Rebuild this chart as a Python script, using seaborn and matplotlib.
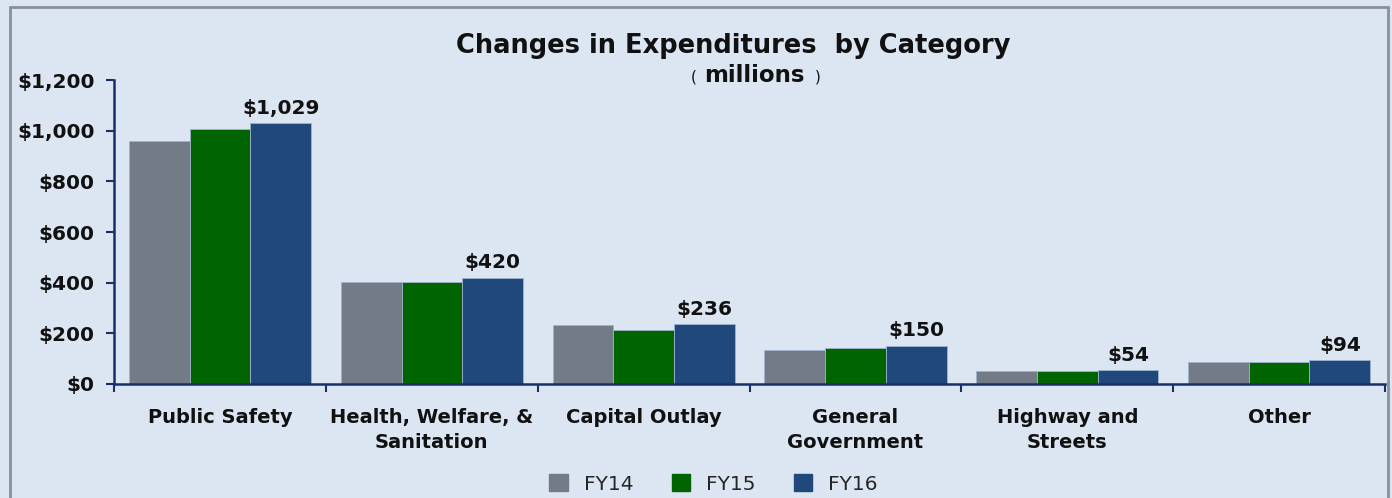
import pandas as pd
import matplotlib.pyplot as plt
import seaborn as sns
from matplotlib.patches import Rectangle, Patch
from matplotlib.ticker import FixedLocator

categorias = ['Public Safety', 'Health, Welfare, &\nSanitation', 'Capital Outlay',
              'General\nGovernment', 'Highway and\nStreets', 'Other']
anos = ['FY14', 'FY15', 'FY16']
fy14 = [960, 403, 233, 134, 50, 88]
fy15 = [1007, 403, 213, 142, 52, 88]
fy16 = [1029, 420, 236, 150, 54, 94]
rotulos_fy16 = ['$1,029', '$420', '$236', '$150', '$54', '$94']
cores = ['#737B87', '#006400', '#20487B']

df = pd.DataFrame({
    'categoria': categorias * 3,
    'ano': [a for a in anos for _ in categorias],
    'valor': fy14 + fy15 + fy16,
})

sns.set_theme(style='white')
plt.rcParams['font.family'] = ['DejaVu Sans']
fundo = '#DCE6F2'
azul_eixo = '#17306B'

fig = plt.figure(figsize=(13.92, 4.98), dpi=100, facecolor=fundo)
ax = fig.add_axes([0.082, 0.229, 0.913, 0.61])
ax.set_facecolor(fundo)

sns.barplot(data=df, x='categoria', y='valor', hue='ano', palette=cores, saturation=1,
            width=0.86, edgecolor='#9FB3CC', linewidth=0.6, ax=ax, legend=False)

ax.bar_label(ax.containers[2], labels=rotulos_fy16, padding=4,
             fontsize=14.5, fontweight='bold', color='#111111')

ax.set_ylim(0, 1200)
ax.set_xlim(-0.5, 5.5)
ax.set_yticks(range(0, 1201, 200))
ax.set_yticklabels(['$0', '$200', '$400', '$600', '$800', '$1,000', '$1,200'],
                   fontsize=14.5, fontweight='bold', color='#111111')
ax.set_xticks(range(len(categorias)))
ax.set_xticklabels(categorias, fontsize=14, fontweight='bold', color='#111111',
                   linespacing=1.45)
ax.xaxis.set_minor_locator(FixedLocator([i - 0.5 for i in range(len(categorias) + 1)]))
ax.tick_params(axis='x', which='major', length=0, pad=17, bottom=True)
ax.tick_params(axis='x', which='minor', length=6, width=1.5, color=azul_eixo,
               direction='out', bottom=True)
ax.tick_params(axis='y', length=6, width=1.5, color=azul_eixo, direction='out', pad=8, left=True)
ax.set_xlabel('')
ax.set_ylabel('')

for lado in ['top', 'right']:
    ax.spines[lado].set_visible(False)
for lado in ['left', 'bottom']:
    ax.spines[lado].set_color(azul_eixo)
    ax.spines[lado].set_linewidth(1.8)

fig.text(0.527, 0.908, 'Changes in Expenditures  by Category', ha='center', va='center',
         fontsize=18.5, fontweight='bold', color='#111111')
fig.text(0.542, 0.849, 'millions', ha='center', va='center',
         fontsize=16.5, fontweight='bold', color='#111111')
fig.text(0.4985, 0.846, '(', ha='center', va='center', fontsize=11, color='#111111')
fig.text(0.5875, 0.846, ')', ha='center', va='center', fontsize=11, color='#111111')

handles = [Patch(facecolor=c, edgecolor=c) for c in cores]
fig.legend(handles, anos, loc='center', bbox_to_anchor=(0.5125, 0.028), ncol=3,
           frameon=False, fontsize=14.5, handlelength=0.9, handleheight=0.9,
           columnspacing=1.9, handletextpad=0.8)

fig.patches.append(Rectangle((0.007, -0.01), 0.99, 0.996, transform=fig.transFigure,
                             fill=False, edgecolor='#8A9099', linewidth=2))

plt.savefig('out.png', dpi=100, facecolor=fundo)
